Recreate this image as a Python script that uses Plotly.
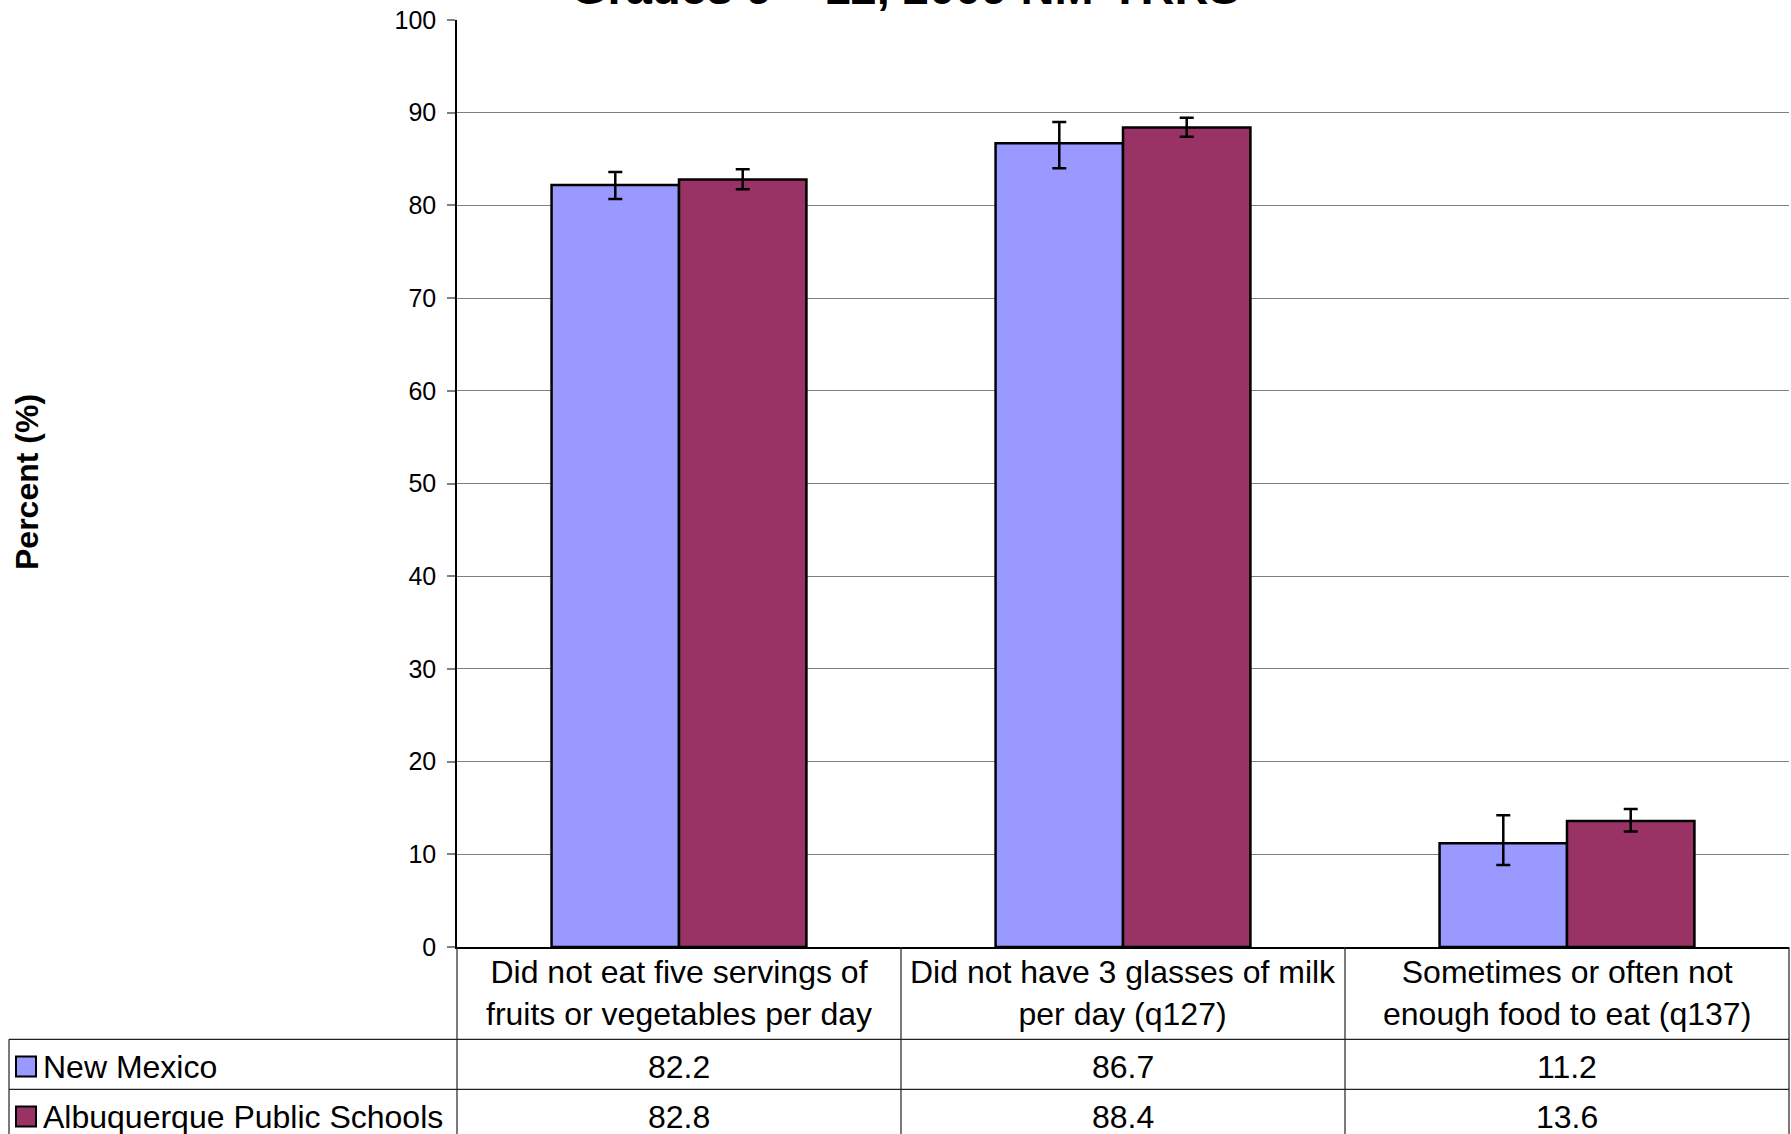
import plotly.graph_objects as go

categories = ["Did not eat five servings of<br>fruits or vegetables per day",
              "Did not have 3 glasses of milk<br>per day (q127)",
              "Sometimes or often not<br>enough food to eat (q137)"]
series_names = ["New Mexico", "Albuquerque Public Schools"]
nm_values = [82.2, 86.7, 11.2]
nm_err_plus = [1.4, 2.3, 3.0]
nm_err_minus = [1.5, 2.7, 2.35]
aps_values = [82.8, 88.4, 13.6]
aps_err_plus = [1.1, 1.05, 1.3]
aps_err_minus = [1.05, 1.0, 1.15]
y_ticks = [0, 10, 20, 30, 40, 50, 60, 70, 80, 90, 100]
title_text = "Grades 9 – 12, 2009 NM-YRRS"
y_title = "Percent (%)"

colors = ["#9999FF", "#993366"]
FONT = "Liberation Sans, Arial, sans-serif"

W, H = 1791, 1134
ML, MR, MT, MB = 457, 2, 20, 187
PW = W - ML - MR
PH = H - MT - MB


def px_to_paper_x(px):
    return (px - ML) / PW


def px_to_paper_y(py):
    return (H - MB - py) / PH


xs = list(range(len(categories)))

fig = go.Figure()
fig.add_trace(go.Bar(
    x=xs, y=nm_values, name=series_names[0],
    marker=dict(color=colors[0], line=dict(color="black", width=2.5)),
    error_y=dict(type="data", array=nm_err_plus, arrayminus=nm_err_minus,
                 color="black", thickness=2.5, width=7),
))
fig.add_trace(go.Bar(
    x=xs, y=aps_values, name=series_names[1],
    marker=dict(color=colors[1], line=dict(color="black", width=2.5)),
    error_y=dict(type="data", array=aps_err_plus, arrayminus=aps_err_minus,
                 color="black", thickness=2.5, width=7),
))

shapes = []
annotations = []
line_style = dict(color="#222222", width=1.2)

row1_top = px_to_paper_y(1039.3)
row2_top = px_to_paper_y(1089.3)
bottom = px_to_paper_y(1150)
left_table = px_to_paper_x(9)

# vertical column lines
for k in range(len(categories) + 1):
    xp = k / len(categories)
    shapes.append(dict(type="line", xref="paper", yref="paper",
                       x0=xp, x1=xp, y0=0, y1=bottom, line=line_style))
# horizontal row lines
for yp in (row1_top, row2_top):
    shapes.append(dict(type="line", xref="paper", yref="paper",
                       x0=left_table, x1=1, y0=yp, y1=yp, line=line_style))
shapes.append(dict(type="line", xref="paper", yref="paper",
                   x0=left_table, x1=left_table, y0=row1_top, y1=bottom,
                   line=line_style))

# category labels
for i, c in enumerate(categories):
    annotations.append(dict(x=i, y=px_to_paper_y(993), xref="x", yref="paper",
                            text=c, showarrow=False, xanchor="center",
                            yanchor="middle",
                            font=dict(family=FONT, size=32, color="black")))

row_centers = [1066.5, 1116.5]
for r, (vals, name, col) in enumerate([(nm_values, series_names[0], colors[0]),
                                       (aps_values, series_names[1], colors[1])]):
    yc = px_to_paper_y(row_centers[r])
    for i, v in enumerate(vals):
        annotations.append(dict(x=i, y=yc, xref="x", yref="paper",
                                text=f"{v:.1f}", showarrow=False,
                                xanchor="center", yanchor="middle",
                                font=dict(family=FONT, size=32, color="black")))
    # legend key
    shapes.append(dict(type="rect", xref="paper", yref="paper",
                       x0=px_to_paper_x(16), x1=px_to_paper_x(36),
                       y0=px_to_paper_y(row_centers[r] + 10),
                       y1=px_to_paper_y(row_centers[r] - 10),
                       fillcolor=col, line=dict(color="black", width=2)))
    annotations.append(dict(x=px_to_paper_x(41), y=yc, xref="paper", yref="paper",
                            text=name, showarrow=False, xanchor="left",
                            yanchor="middle",
                            font=dict(family=FONT, size=32, color="black")))

# y axis title
annotations.append(dict(x=px_to_paper_x(27), y=px_to_paper_y(482), xref="paper",
                        yref="paper", text=f"<b>{y_title}</b>", showarrow=False,
                        textangle=-90, xanchor="center", yanchor="middle",
                        font=dict(family=FONT, size=32, color="black")))

# title (partially cut off at top, as in the source image)
annotations.append(dict(x=px_to_paper_x(905), y=px_to_paper_y(-12), xref="paper",
                        yref="paper", text=f"<b>{title_text}</b>", showarrow=False,
                        xanchor="center", yanchor="middle",
                        font=dict(family=FONT, size=47, color="black")))

fig.update_layout(
    width=W, height=H,
    margin=dict(l=ML, r=MR, t=MT, b=MB, pad=0),
    paper_bgcolor="white", plot_bgcolor="white",
    barmode="group", bargap=0.426, bargroupgap=0,
    showlegend=False,
    shapes=shapes, annotations=annotations,
    xaxis=dict(range=[-0.5, 2.5], showticklabels=False, ticks="",
               showgrid=False, zeroline=False, showline=True,
               linecolor="black", linewidth=1.5),
    yaxis=dict(range=[0, 100], tickvals=y_ticks, ticks="outside", ticklen=8,
               tickcolor="#808080", tickwidth=1.5,
               tickfont=dict(family=FONT, size=25, color="black"),
               ticklabelstandoff=6,
               showgrid=True, gridcolor="#808080", gridwidth=1.2,
               zeroline=False, showline=True, linecolor="black", linewidth=1.5),
)

fig.write_html("out.html",
               config={"displayModeBar": False},
               post_script="document.body.style.margin='0';"
                           "document.body.style.padding='0';"
                           "document.body.style.overflow='hidden';")
